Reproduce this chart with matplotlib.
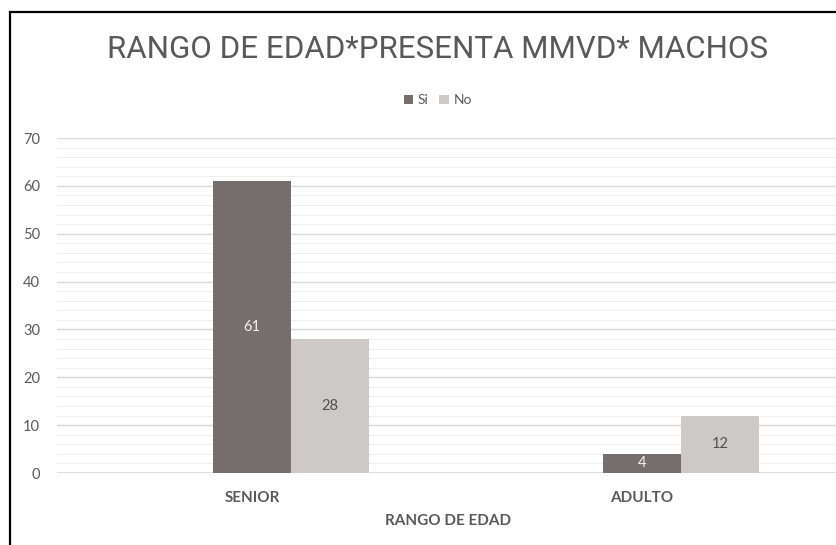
import matplotlib.pyplot as plt
from matplotlib.lines import Line2D
import numpy as np

categories = ['SENIOR', 'ADULTO']
series_names = ['Si', 'No']
si_values = [61, 4]
no_values = [28, 12]

plt.rcParams['font.family'] = ['Lato', 'DejaVu Sans']

fig = plt.figure(figsize=(8.37, 5.45), dpi=100)
ax = fig.add_axes([0.068, 0.132, 0.932, 0.6147])

x = np.arange(len(categories))
w = 0.2
c_si = '#766e6e'
c_no = '#cdc9c9'
b1 = ax.bar(x, si_values, w, color=c_si, label=series_names[0], zorder=3)
b2 = ax.bar(x + w, no_values, w, color=c_no, label=series_names[1], zorder=3)

for bars, col in ((b1, '#f2f2f2'), (b2, '#505050')):
    for r in bars:
        h = r.get_height()
        ax.text(r.get_x() + r.get_width() / 2, h / 2, str(int(h)),
                ha='center', va='center', fontsize=10.5, color=col, zorder=4)

ax.set_xlim(-0.5, 1.5)
ax.set_ylim(0, 70)
ax.set_yticks(range(0, 71, 10))
ax.set_yticks(range(0, 71, 2), minor=True)
ax.grid(axis='y', which='major', color='#d9d9d9', linewidth=1.0, zorder=0)
ax.grid(axis='y', which='minor', color='#efefef', linewidth=0.8, zorder=0)
ax.set_xticks(x)
ax.set_xticklabels(categories, fontsize=11, fontweight='bold', color='#595959')
ax.tick_params(axis='y', labelsize=10.5, labelcolor='#595959', length=0, pad=12)
ax.tick_params(axis='x', length=0, pad=13)
ax.tick_params(which='minor', length=0)
for s in ax.spines.values():
    s.set_visible(False)
ax.axhline(0, color='#d9d9d9', linewidth=1.2, zorder=2)

fig.text(0.523, 0.91, 'RANGO DE EDAD*PRESENTA MMVD* MACHOS', ha='center', va='center',
         fontsize=22.5, color='#595959', family='Roboto')
fig.text(0.535, 0.044, 'RANGO DE EDAD', ha='center', va='center',
         fontsize=11, fontweight='bold', color='#595959')
leg = fig.legend(loc='center', bbox_to_anchor=(0.523, 0.816), ncol=2, frameon=False,
                 fontsize=10, handlelength=0.7, handleheight=0.7, handletextpad=0.3,
                 columnspacing=0.8)
for t in leg.get_texts():
    t.set_color('#595959')

# outer frame (left and top edges)
fig.add_artist(Line2D([0.0115, 0.0115], [0.0, 0.978], color='black', linewidth=1.6))
fig.add_artist(Line2D([0.0115, 1.0], [0.978, 0.978], color='black', linewidth=1.6))

fig.savefig('out.png', dpi=100)
